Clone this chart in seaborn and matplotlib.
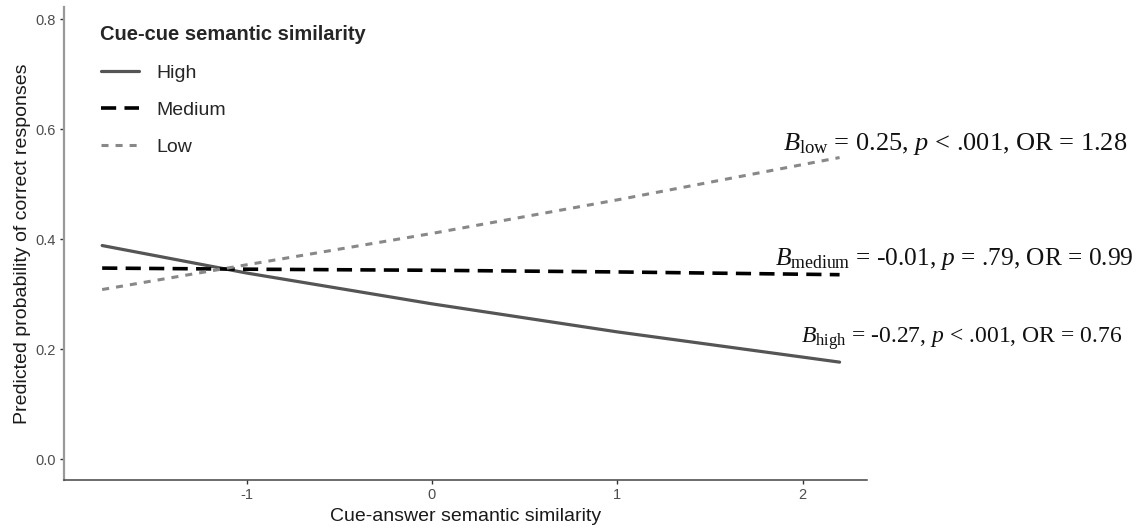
import pandas as pd
import matplotlib
matplotlib.use("Agg")
import matplotlib.pyplot as plt
import seaborn as sns
from matplotlib.ticker import FormatStrFormatter

# ---- Data ----
cue_answer = [-1.78, -1.0, 0.0, 1.0, 2.2]
prob_high = [0.389, 0.339, 0.283, 0.232, 0.177]
prob_medium = [0.348, 0.346, 0.344, 0.341, 0.336]
prob_low = [0.309, 0.354, 0.411, 0.472, 0.549]
levels = ["High", "Medium", "Low"]
annotations = [
    r"$B_{\mathrm{low}}$ = 0.25, $p$ < .001, OR = 1.28",
    r"$B_{\mathrm{medium}}$ = -0.01, $p$ = .79, OR = 0.99",
    r"$B_{\mathrm{high}}$ = -0.27, $p$ < .001, OR = 0.76",
]
annot_x = [2.825, 2.817, 2.860]
annot_y = [0.563, 0.354, 0.212]


def main():
    df = pd.DataFrame({
        "x": cue_answer * 3,
        "p": prob_high + prob_medium + prob_low,
        "level": [lv for lv in levels for _ in cue_answer],
    })

    sns.set_style("white")
    plt.rcParams["font.family"] = ["Liberation Sans", "DejaVu Sans"]
    plt.rcParams["axes.unicode_minus"] = False
    plt.rcParams["mathtext.fontset"] = "custom"
    plt.rcParams["mathtext.rm"] = "Liberation Serif"
    plt.rcParams["mathtext.it"] = "Liberation Serif:italic"

    fig = plt.figure(figsize=(11.37, 5.28), dpi=100)
    ax = fig.add_axes([64 / 1137, 1 - 480 / 528, (867 - 64) / 1137, (480 - 7) / 528])

    palette = {"High": "#555555", "Medium": "#000000", "Low": "#888888"}
    dashes = {"High": "", "Medium": (4.2, 2.3), "Low": (2.3, 2.3)}
    sns.lineplot(data=df, x="x", y="p", hue="level", style="level",
                 hue_order=levels, style_order=levels,
                 palette=palette, dashes=dashes, lw=2.3, legend=False, ax=ax)
    widths = {"High": 2.3, "Medium": 2.6, "Low": 2.2}
    for line, lv in zip(ax.lines, levels):
        line.set_linewidth(widths[lv])

    ax.set_xlim(-1.986, 2.348)
    ax.set_ylim(-0.0373, 0.8227)
    ax.set_xticks([-1, 0, 1, 2])
    ax.set_yticks([0.0, 0.2, 0.4, 0.6, 0.8])
    ax.yaxis.set_major_formatter(FormatStrFormatter("%.1f"))
    ax.tick_params(axis="both", labelsize=10.5, labelcolor="#4d4d4d",
                   length=3, width=1, color="#333333", pad=3, left=True, bottom=True)

    sns.despine(ax=ax)
    ax.spines["left"].set_color("#999999")
    ax.spines["left"].set_linewidth(1.6)
    ax.spines["bottom"].set_color("#444444")
    ax.spines["bottom"].set_linewidth(1.1)

    ax.set_xlabel("Cue-answer semantic similarity", fontsize=14, color="#1a1a1a", labelpad=4)
    ax.set_ylabel("Predicted probability of correct responses", fontsize=14,
                  color="#1a1a1a", labelpad=3)

    ax.legend(handles=ax.lines[:3], labels=levels, loc="upper left",
              bbox_to_anchor=(83 / 1137, 1 - 8 / 528), bbox_transform=fig.transFigure,
              frameon=False, fontsize=14, title="Cue-cue semantic similarity",
              title_fontproperties={"weight": "bold", "size": 14.5},
              handlelength=2.0, handletextpad=0.85, labelspacing=1.0,
              alignment="left")

    # sizes per line tuned so the widths match the reference
    sizes = [19, 18.3, 17]
    for txt, xv, yv, fs in zip(annotations, annot_x, annot_y, sizes):
        ax.text(xv, yv, txt, ha="center", va="baseline", fontsize=fs,
                family="Liberation Serif", color="#111111", clip_on=False)

    fig.savefig("out.png", dpi=100)
    plt.close(fig)


if __name__ == "__main__":
    main()
